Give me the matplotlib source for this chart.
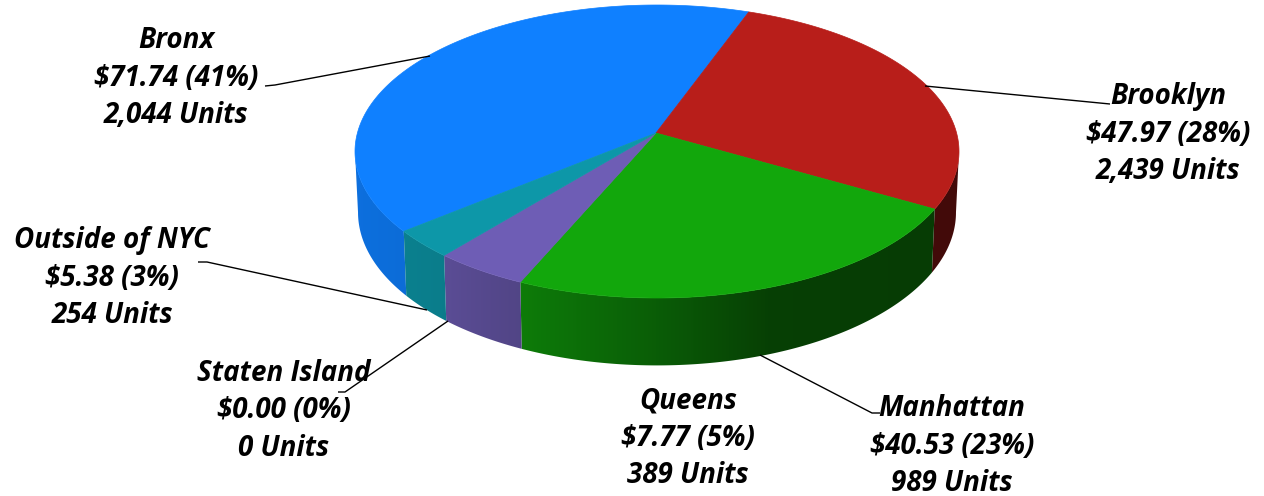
import numpy as np
import matplotlib
matplotlib.use("Agg")
import matplotlib.pyplot as plt
from matplotlib.colors import to_rgb
from matplotlib.patches import Polygon

# data, clockwise from the Bronx
boroughs = ["Bronx", "Brooklyn", "Manhattan", "Queens", "Staten Island", "Outside of NYC"]
revenue = [71.74, 47.97, 40.53, 7.77, 0.00, 5.38]
percents = [41, 28, 23, 5, 0, 3]
units = [2044, 2439, 989, 389, 0, 254]

colors = ["#0F80FF", "#B81E1A", "#12A70C", "#6E5DB5", "#6E5DB5", "#0D97A8"]

# where each label sits, in pixels
label_pos = [(176, 76), (1168, 132), (952, 444), (688, 436), (284, 409), (112, 276)]
leaders = [
    [(265, 86), (275, 85), (430, 56)],
    [(925, 86), (1110, 104)],
    [(760, 355), (872, 413), (880, 413)],
    [],
    [(338, 392), (345, 392), (448, 321)],
    [(198, 262), (207, 262), (427, 310)],
]

# pie geometry
start_deg = 231.1
cx = 657
top_y, apex_y, front_y = 5, 133, 298
half_w = 302

# solve the perspective from the three y positions
c = (2 * apex_y - front_y - top_y) / (front_y - top_y)
b = front_y * (1 + c) - apex_y


def project(theta):
    # theta clockwise from the back of the pie
    u, v = np.sin(theta), -np.cos(theta)
    w = 1 + c * v
    return u / w, (apex_y + b * v) / w


tt = np.radians(np.linspace(0, 360, 1441))
k = half_w / np.abs(project(tt)[0]).max()
right_ext = tt[np.argmax(project(tt)[0])]
left_ext = 2 * np.pi - right_ext


def rim(theta):
    x, y = project(theta)
    return cx + k * x, y


def wall_shade(x):
    return np.interp(x, [355, 440, 520, 640, 770, 930, 960], [0.87, 0.83, 0.74, 0.58, 0.38, 0.36, 0.36])


fig = plt.figure(figsize=(12.64, 4.96), dpi=100)
ax = fig.add_axes([0, 0, 1, 1])
ax.axis("off")

fractions = np.array(revenue) / sum(revenue)
angles = np.radians(start_deg) + 2 * np.pi * np.concatenate([[0], np.cumsum(fractions)])

# side walls first, only the part facing the viewer
shade_x = np.arange(340, 980)
for i in range(len(revenue)):
    if revenue[i] == 0:
        continue
    for turn in (0, 2 * np.pi):
        t0 = max(angles[i], right_ext + turn)
        t1 = min(angles[i + 1], left_ext + turn)
        if t1 <= t0:
            continue
        xs, ys = rim(np.linspace(t0, t1, 200))
        xb = cx + (xs - cx) * 0.99
        yb = ys + 54 + 0.045 * ys
        outline = np.c_[np.r_[xs, xb[::-1]], np.r_[ys, yb[::-1]]]
        shape = Polygon(outline, closed=True, facecolor="none", edgecolor="none", transform=ax.transData)
        ax.add_patch(shape)
        base = np.array(to_rgb(colors[i]))
        strip = wall_shade(shade_x)[None, :, None] * base[None, None, :]
        img = ax.imshow(strip, extent=(340, 980, 400, 0), aspect="auto", interpolation="nearest", zorder=1)
        img.set_clip_path(shape)

ax.set_xlim(0, 1264)
ax.set_ylim(496, 0)

# top surface
for i in range(len(revenue)):
    if revenue[i] == 0:
        continue
    n = max(int(np.degrees(angles[i + 1] - angles[i]) * 2), 2)
    xs, ys = rim(np.linspace(angles[i], angles[i + 1], n + 1))
    ax.fill(np.r_[cx - 1, xs], np.r_[apex_y, ys], color=colors[i], lw=0.5, zorder=2)

for pts in leaders:
    if pts:
        ax.plot(*zip(*pts), color="black", lw=1.0, zorder=3, solid_capstyle="butt")

for i, name in enumerate(boroughs):
    label = f"{name}\n${revenue[i]:.2f} ({percents[i]}%)\n{units[i]:,} Units"
    ax.text(label_pos[i][0], label_pos[i][1] + 2, label, ha="center", va="center", family="Open Sans",
            weight="bold", style="italic", fontsize=20, linespacing=1.37, color="black",
            parse_math=False, zorder=4)

fig.savefig("out.png", dpi=100, facecolor="white")
